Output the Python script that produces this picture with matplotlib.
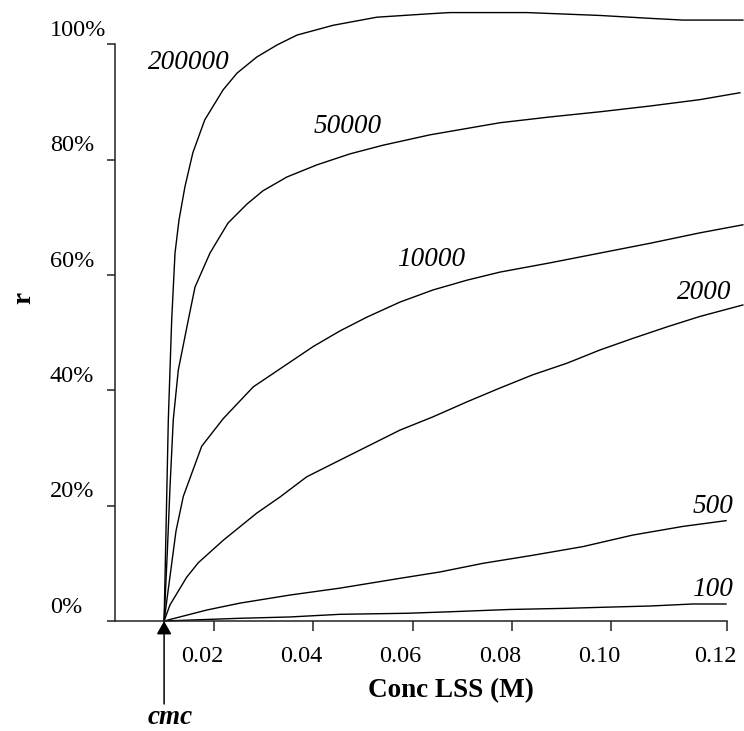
import matplotlib.pyplot as plt
import matplotlib.transforms as transforms

plt.rcParams['font.family'] = ['Liberation Serif', 'DejaVu Serif']

# critical micelle concentration (M) and axis end
CMC = 0.0099
X_END = 0.1234

# r (%) vs LSS concentration (M), one curve per label
x_200000 = [CMC, 0.01075, 0.01143, 0.0121, 0.0129, 0.0141, 0.0157, 0.0181, 0.0218, 0.0246, 0.0286,
            0.0327, 0.0367, 0.0440, 0.0528, 0.0635, 0.0675, 0.0831, 0.0978, 0.1079, 0.1145, 0.1266]
y_200000 = [0, 34.9, 52.2, 63.8, 69.5, 75.3, 81.2, 86.9, 92.1, 95.0, 97.8,
            99.9, 101.6, 103.3, 104.7, 105.3, 105.5, 105.5, 105.0, 104.5, 104.2, 104.2]

x_50000 = [CMC, 0.01054, 0.01109, 0.01175, 0.01276, 0.01478, 0.01613, 0.01915, 0.02278, 0.02661,
           0.02984, 0.03468, 0.04073, 0.04738, 0.05403, 0.06351, 0.07762, 0.0877, 0.0978, 0.1079,
           0.1179, 0.1260]
y_50000 = [0, 11.8, 23.2, 34.9, 43.5, 52.2, 57.9, 63.8, 69.0, 72.3,
           74.6, 77.0, 79.1, 81.0, 82.5, 84.3, 86.4, 87.4, 88.3, 89.3,
           90.4, 91.6]

x_10000 = [CMC, 0.0123, 0.01377, 0.01748, 0.02183, 0.02788, 0.03393, 0.03998, 0.04536, 0.05081,
           0.05746, 0.06411, 0.07097, 0.07762, 0.0877, 0.0978, 0.1079, 0.1179, 0.1266]
y_10000 = [0, 15.6, 21.6, 30.3, 35.1, 40.6, 44.1, 47.6, 50.3, 52.7,
           55.3, 57.4, 59.1, 60.5, 62.1, 63.8, 65.5, 67.3, 68.7]

x_2000 = [CMC, 0.01109, 0.01446, 0.01679, 0.02183, 0.02857, 0.03327, 0.03865, 0.04536, 0.05141,
          0.05746, 0.06411, 0.07097, 0.07762, 0.08427, 0.09113, 0.0978, 0.1044, 0.1113, 0.1179, 0.1266]
y_2000 = [0, 2.8, 7.6, 10.1, 14.0, 18.7, 21.5, 25.0, 27.9, 30.5,
          33.1, 35.4, 38.0, 40.4, 42.7, 44.7, 47.0, 49.0, 51.0, 52.8, 54.8]

x_500 = [CMC, 0.01849, 0.0252, 0.03528, 0.04536, 0.05746, 0.06552, 0.07419, 0.08427, 0.09435,
         0.1044, 0.1145, 0.1232]
y_500 = [0, 1.9, 3.1, 4.5, 5.7, 7.4, 8.5, 10.0, 11.4, 12.9, 14.9, 16.4, 17.4]

x_100 = [CMC, 0.0252, 0.03528, 0.04536, 0.05887, 0.06754, 0.07964, 0.09113, 0.0992, 0.1079,
         0.1165, 0.1232]
y_100 = [0, 0.47, 0.7, 1.16, 1.34, 1.6, 2.0, 2.2, 2.4, 2.6, 2.95, 2.95]

curves = [
    (x_200000, y_200000, '200000', 0.01492, 96.8),
    (x_50000, y_50000, '50000', 0.04698, 85.7),
    (x_10000, y_10000, '10000', 0.06371, 62.6),
    (x_2000, y_2000, '2000', 0.11875, 57.0),
    (x_500, y_500, '500', 0.12056, 19.8),
    (x_100, y_100, '100', 0.12056, 5.4),
]

x_ticks = [0.02, 0.04, 0.06, 0.08, 0.10, X_END]
x_tick_labels = ['0.02', '0.04', '0.06', '0.08', '0.10', '0.12']
y_ticks = [0, 20, 40, 60, 80, 100]
y_tick_labels = ['0%', '20%', '40%', '60%', '80%', '100%']

fig = plt.figure(figsize=(7.44, 7.31), dpi=100)
ax = fig.add_axes([115 / 744, 110 / 731, 612 / 744, 576.7 / 731])

for xs, ys, name, lx, ly in curves:
    ax.plot(xs, ys, color='black', lw=1.0, clip_on=False)
    ax.text(lx, ly, name, fontsize=19.5, style='italic', ha='center', va='center')

ax.set_xlim(0, X_END)
ax.set_ylim(0, 100)
for side in ['top', 'right']:
    ax.spines[side].set_visible(False)
for side in ['left', 'bottom']:
    ax.spines[side].set_linewidth(1.1)
    ax.spines[side].set_color('#222222')

ax.set_xticks(x_ticks)
ax.set_yticks(y_ticks)
ax.set_xticklabels([])
ax.set_yticklabels([])
ax.tick_params(axis='x', direction='out', length=7.2, width=1.1, color='#222222')
ax.tick_params(axis='y', direction='out', length=5.8, width=1.1, color='#222222')

# tick labels sit a little left of (x) and above (y) their ticks
xlab_tr = ax.get_xaxis_transform() + transforms.ScaledTranslation(-0.12, -0.41, fig.dpi_scale_trans)
for v, s in zip(x_ticks, x_tick_labels):
    ax.text(v, 0, s, transform=xlab_tr, fontsize=17.5, ha='center', va='baseline')

ylab_tr = transforms.blended_transform_factory(fig.transFigure, ax.transData) + \
    transforms.ScaledTranslation(0, 0.084, fig.dpi_scale_trans)
for v, s in zip(y_ticks, y_tick_labels):
    ax.text(50 / 744, v, s, transform=ylab_tr, fontsize=17.5, ha='left', va='baseline')

fig.text(451 / 744, 34 / 731, 'Conc LSS (M)', fontsize=19.5, fontweight='bold',
         ha='center', va='baseline')
fig.text(24 / 744, 1 - 298 / 731, 'r', fontsize=19.5, fontweight='bold',
         rotation=90, ha='center', va='center')

# cmc arrow
ax.annotate('', xy=(CMC, 0), xycoords='data',
            xytext=(CMC, 27), textcoords=('data', 'figure pixels'),
            arrowprops=dict(arrowstyle='-|>,head_width=0.45,head_length=0.8',
                            mutation_scale=10, color='black', lw=1.1,
                            shrinkA=0, shrinkB=0),
            annotation_clip=False)
fig.text(170 / 744, 7 / 731, 'cmc', fontsize=19.5, fontweight='bold', style='italic',
         ha='center', va='baseline')

fig.savefig('out.png', dpi=100)
